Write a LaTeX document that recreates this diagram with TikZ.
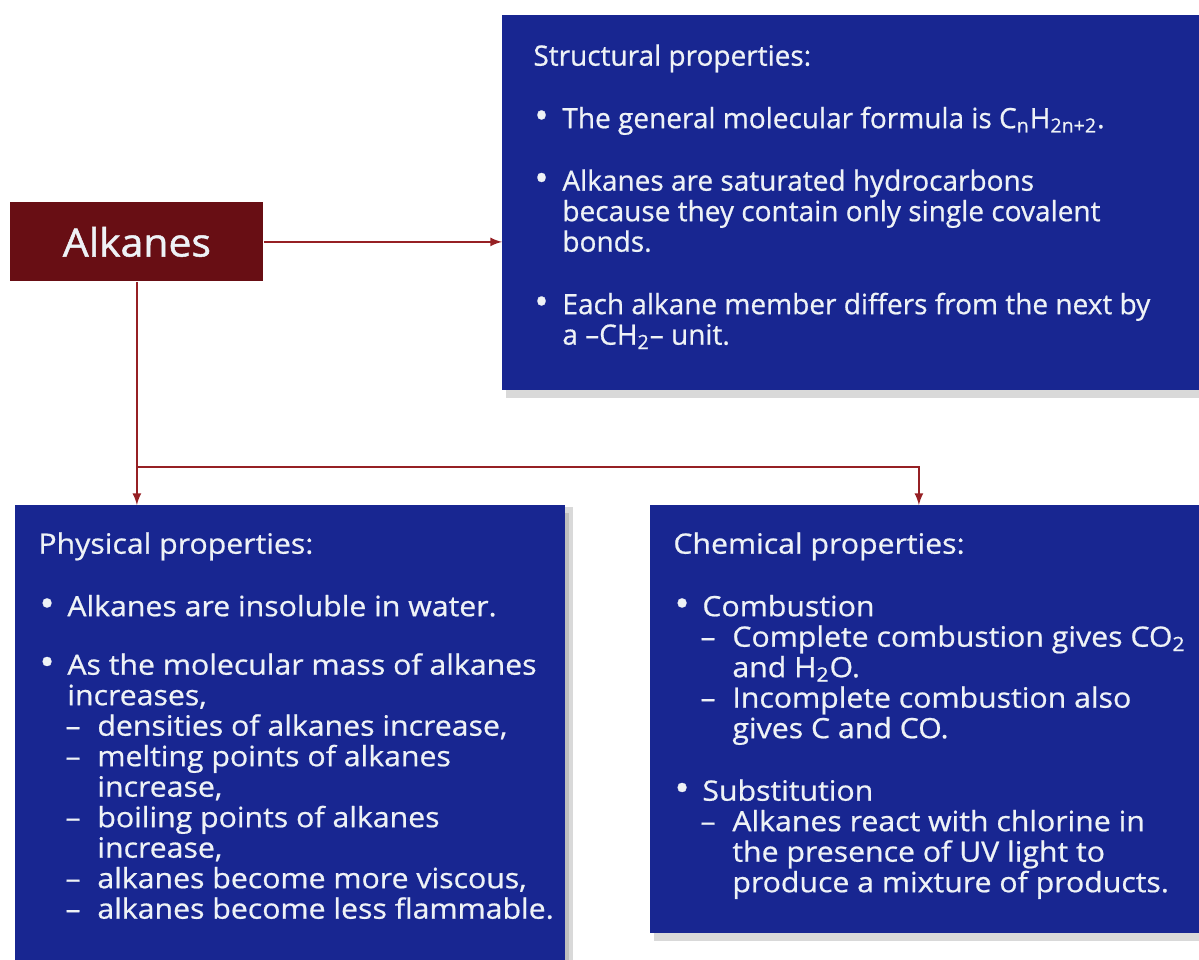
\documentclass[tikz,border=0pt]{standalone}
\usepackage{fontspec}
\setmainfont{Open Sans}[FakeStretch=1.08, FakeBold=0.7]
\newfontfamily\narrowsans{Open Sans}[FakeBold=0.7]
\newfontfamily\titlesans{Open Sans}[FakeStretch=1.05, FakeBold=1.2]
\usepackage{tikz}
\usetikzlibrary{arrows,shadows}

\definecolor{panelblue}{RGB}{24,38,145}
\definecolor{alkred}{RGB}{104,14,20}
\definecolor{linkred}{RGB}{150,32,36}
\definecolor{paneltextc}{RGB}{238,242,246}

\newcommand{\bul}{\makebox[14.5pt][l]{\hspace{0.5pt}\raisebox{-0.3pt}{\scalebox{1.35}{\textbullet}}}}
\newcommand{\dsh}{\hspace*{14.5pt}\makebox[15pt][l]{\hspace{-1pt}–}}
\newcommand{\hang}{\hspace*{14.5pt}}
\newcommand{\hangg}{\hspace*{29.5pt}}

\tikzset{
  panel/.style={fill=panelblue, anchor=north west, inner sep=0pt,
    drop shadow={shadow xshift=2pt, shadow yshift=-4pt, opacity=.3}},
  paneltext/.style={anchor=north west, align=left, inner sep=0pt, text=paneltextc,
    font=\fontsize{14}{15.25}\selectfont},
  link/.style={draw=linkred, line width=1pt, -latex},
}

\begin{document}
\begin{tikzpicture}[x=0.5pt,y=-0.5pt]
\useasboundingbox (0,0) rectangle (1199,959);
% boxes
\draw (10,202) node[fill=alkred, anchor=north west, minimum width=126.5pt, minimum height=39.5pt, inner sep=0pt, text=paneltextc, font=\titlesans\fontsize{19.5}{20}\selectfont] (alk) {Alkanes};
\draw (502,15) node[panel, minimum width=348.5pt, minimum height=187.5pt] (struc) {};
\draw (15,505) node[panel, minimum width=275pt, minimum height=235pt, drop shadow={shadow xshift=4pt, shadow yshift=-1pt, opacity=.3}] (phys) {};
\draw (650,505) node[panel, minimum width=274.5pt, minimum height=214pt] (chem) {};

% texts
\draw (533,44) node[paneltext, font=\narrowsans\fontsize{14}{15.25}\selectfont] (structxt) {Structural properties:\\[16pt]
\bul The general molecular formula is C\textsubscript{n}H\textsubscript{2n+2}.\\[16pt]
\bul Alkanes are saturated hydrocarbons\\
\hang because they contain only single covalent\\
\hang bonds.\\[16pt]
\bul Each alkane member differs from the next by\\
\hang a –CH\textsubscript{2}– unit.};
\draw (38,532) node[paneltext] (phystxt) {Physical properties:\\[16pt]
\bul Alkanes are insoluble in water.\\[14pt]
\bul As the molecular mass of alkanes\\
\hang increases,\\
\dsh densities of alkanes increase,\\
\dsh melting points of alkanes\\
\hangg increase,\\
\dsh boiling points of alkanes\\
\hangg increase,\\
\dsh alkanes become more viscous,\\
\dsh alkanes become less flammable.};
\draw (673,532) node[paneltext] (chemtxt) {Chemical properties:\\[16pt]
\bul Combustion\\
\dsh Complete combustion gives CO\textsubscript{2}\\
\hangg and H\textsubscript{2}O.\\
\dsh Incomplete combustion also\\
\hangg gives C and CO.\\[16pt]
\bul Substitution\\
\dsh Alkanes react with chlorine in\\
\hangg the presence of UV light to\\
\hangg produce a mixture of products.};

% connectors
\coordinate (fork) at (136.5,467);
\draw[link] (alk.east) -- (alk.east -| struc.west);
\draw[link] (alk.south) -- (alk.south |- phys.north);
\draw[link] (fork) -| ([xshift=-3pt]chem.north);
\end{tikzpicture}
\end{document}
